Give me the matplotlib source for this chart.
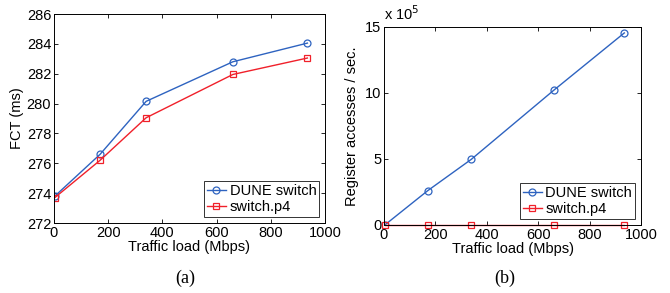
import matplotlib
matplotlib.use("Agg")
import matplotlib.pyplot as plt
import numpy as np

plt.rcParams['font.family'] = ['Liberation Sans', 'DejaVu Sans']

# Data
load = [3, 170, 340, 660, 935]
fct_dune = [273.8, 276.6, 280.15, 282.8, 284.05]
fct_p4 = [273.7, 276.2, 279.05, 281.95, 283.05]
reg_dune = [0.0, 2.6e5, 4.98e5, 10.2e5, 14.55e5]
reg_p4 = [0.0, 0.0, 0.0, 0.0, 0.0]

blue = '#2e63c0'
red = '#f0202a'
fs = 10.5

fig = plt.figure(figsize=(6.7, 2.93), dpi=100)
ax1 = fig.add_axes([54/670, 1-223/293, 271/670, 209/293])
ax2 = fig.add_axes([384/670, 1-225/293, 257/670, 198/293])

def style(ax):
    ax.tick_params(direction='in', top=True, right=True, labelsize=fs,
                   length=3, width=0.6, pad=2)
    for s in ax.spines.values():
        s.set_linewidth(0.7)

def add_legend(ax):
    leg = ax.legend(loc='lower right', fontsize=fs, fancybox=False,
                    handlelength=1.3, handletextpad=0.25, borderpad=0.2,
                    labelspacing=0.15, borderaxespad=0.4)
    leg.get_frame().set_edgecolor('black')
    leg.get_frame().set_linewidth(0.7)

# (a) FCT
ax1.plot(load, fct_dune, '-o', color=blue, lw=1, ms=5, mfc='none', mew=0.9,
         label='DUNE switch')
ax1.plot(load, fct_p4, '-s', color=red, lw=1, ms=4, mfc='none', mew=0.9,
         label='switch.p4')
ax1.set_xlim(0, 1000)
ax1.set_ylim(272, 286)
ax1.set_xticks(range(0, 1001, 200))
ax1.set_yticks(range(272, 287, 2))
ax1.set_xlabel('Traffic load (Mbps)', fontsize=fs, labelpad=0)
ax1.set_ylabel('FCT (ms)', fontsize=fs, labelpad=2)
style(ax1)
add_legend(ax1)

# (b) register accesses
ax2.plot(load, np.array(reg_dune) / 1e5, '-o', color=blue, lw=1, ms=5, mfc='none',
         mew=0.9, label='DUNE switch')
ax2.plot(load, np.array(reg_p4) / 1e5, '-s', color=red, lw=1, ms=4, mfc='none',
         mew=0.9, label='switch.p4', clip_on=False)
ax2.set_xlim(0, 1000)
ax2.set_ylim(0, 15)
ax2.set_xticks(range(0, 1001, 200))
ax2.set_yticks([0, 5, 10, 15])
ax2.set_xlabel('Traffic load (Mbps)', fontsize=fs, labelpad=0)
ax2.set_ylabel('Register accesses / sec.', fontsize=fs, labelpad=4)
style(ax2)
ax2.text(0.0, 1.02, r'x 10$^5$', transform=ax2.transAxes, fontsize=fs,
         ha='left', va='bottom')
add_legend(ax2)

fig.text(185/670, 1-278/293, '(a)', family='Liberation Serif', fontsize=13,
         ha='center', va='center')
fig.text(505/670, 1-278/293, '(b)', family='Liberation Serif', fontsize=13,
         ha='center', va='center')

fig.savefig('out.png', dpi=100)
